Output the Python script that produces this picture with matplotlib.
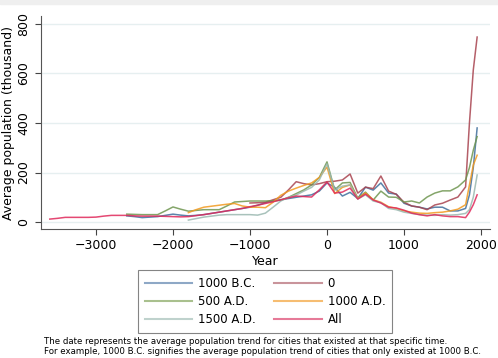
import numpy as np
import matplotlib
matplotlib.use("Agg")
import matplotlib.pyplot as plt
from matplotlib.lines import Line2D

years = list(range(-3600, 1801, 100)) + [1850, 1900, 1950]

# average population (thousand), each series starts at its own year
all_start = -3600
all_vals = [12, 15, 19, 19, 19, 19, 20, 24, 27, 27, 27, 25, 24, 24, 24, 23, 22, 21, 22, 26,
            30, 35, 40, 45, 50, 55, 62, 68, 75, 82, 90, 98, 105, 103, 101, 130, 162, 117, 121, 137,
            93, 113, 89, 77, 60, 57, 48, 36, 30, 25, 30, 25, 22, 22, 18, 40, 70, 110]

bc1000_start = -2600
bc1000_vals = [25, 22, 18, 20, 22, 27, 32, 28, 25, 27, 30, 35, 40, 45, 50, 55, 60, 68, 78, 85,
               90, 95, 100, 105, 110, 125, 158, 140, 105, 120, 95, 141, 129, 158, 117, 113, 76, 65, 60, 53,
               60, 60, 45, 45, 55, 110, 220, 380]

y0_start = -1000
y0_vals = [77, 78, 80, 90, 100, 130, 163, 155, 150, 155, 163, 165, 170, 194, 117, 141, 135, 186, 125, 112,
           80, 65, 60, 50, 69, 76, 89, 101, 142, 400, 614, 747]

ad500_start = -2600
ad500_vals = [32, 31, 30, 30, 30, 45, 61, 52, 44, 47, 50, 50, 50, 65, 81, 83, 85, 85, 85, 86,
              88, 100, 115, 130, 150, 180, 243, 130, 158, 160, 97, 121, 89, 125, 101, 100, 81, 85, 77, 101,
              117, 126, 126, 142, 170, 220, 290, 345]

ad1000_start = -1800
ad1000_vals = [38, 50, 60, 64, 68, 72, 75, 65, 60, 60, 58, 80, 108, 125, 137, 148, 158, 180, 222, 115,
               140, 150, 95, 118, 90, 80, 62, 55, 45, 40, 36, 35, 38, 40, 45, 52, 70, 150, 230, 270]

ad1500_start = -1800
ad1500_vals = [8, 14, 20, 24, 28, 30, 30, 30, 30, 28, 36, 60, 85, 100, 109, 125, 140, 170, 235, 130,
               145, 150, 93, 110, 85, 78, 55, 50, 40, 35, 30, 28, 27, 30, 28, 30, 35, 50, 100, 190]

labels = ["1000 B.C.", "0", "500 A.D.", "1000 A.D.", "1500 A.D.", "All"]
colors = ["#3f6e9c", "#a8434f", "#6f9650", "#f29a1f", "#9ab8b0", "#e0285a"]
legend_colors = ["#8ea8c6", "#c9949b", "#a9c08e", "#f6bd72", "#bfd2cd", "#e67a98"]

series = {
    "1000 B.C.": (bc1000_start, bc1000_vals),
    "0": (y0_start, y0_vals),
    "500 A.D.": (ad500_start, ad500_vals),
    "1000 A.D.": (ad1000_start, ad1000_vals),
    "1500 A.D.": (ad1500_start, ad1500_vals),
    "All": (all_start, all_vals),
}

fig = plt.figure(figsize=(4.98, 3.58), dpi=100)
fig.patches.append(plt.Rectangle((0, 0.988), 1, 0.012, transform=fig.transFigure,
                                 color="#efefef", zorder=0))
ax = fig.add_axes([41 / 498, 1 - 229 / 358, 449 / 498, 213 / 358])

for lab, col in zip(labels, colors):
    start, vals = series[lab]
    i = years.index(start)
    ax.plot(years[i:i + len(vals)], vals, color=col, lw=1.1, alpha=0.85)

ax.set_xlim(-3714, 2117)
ax.set_ylim(-28, 832)
ax.set_xticks([-3000, -2000, -1000, 0, 1000, 2000])
ax.set_yticks([0, 200, 400, 600, 800])
ax.set_yticklabels(["0", "200", "400", "600", "800"], rotation=90, va="center")
ax.tick_params(labelsize=9, length=4, color="#444444")
ax.grid(axis="y", color="#e6eff0", lw=1)
ax.set_axisbelow(True)
for s in ["top", "right"]:
    ax.spines[s].set_visible(False)
for s in ["left", "bottom"]:
    ax.spines[s].set_color("#555555")
ax.set_xlabel("Year", fontsize=9, labelpad=2)
ax.set_ylabel("Average population (thousand)", fontsize=9, labelpad=2)

# legend reads row by row: reorder for matplotlib's column filling
order = [0, 2, 4, 1, 3, 5]
handles = [Line2D([0], [0], color=legend_colors[k], lw=1.5) for k in order]
leg = fig.legend(handles, [labels[k] for k in order], loc="center", bbox_to_anchor=(0.532, 0.158),
                 ncol=2, fontsize=8.5, frameon=True, fancybox=False, edgecolor="#666666",
                 handlelength=4.0, handletextpad=0.5, columnspacing=1.6, borderpad=0.6,
                 labelspacing=0.4)
leg.get_frame().set_linewidth(0.8)

fig.text(44 / 498, 1 - 341 / 358, "The date represents the average population trend for cities that existed at that specific time.",
         fontsize=6.2, va="center")
fig.text(44 / 498, 1 - 352 / 358, "For example, 1000 B.C. signifies the average population trend of cities that only existed at 1000 B.C.",
         fontsize=6.2, va="center")

fig.savefig("out.png", dpi=100)
